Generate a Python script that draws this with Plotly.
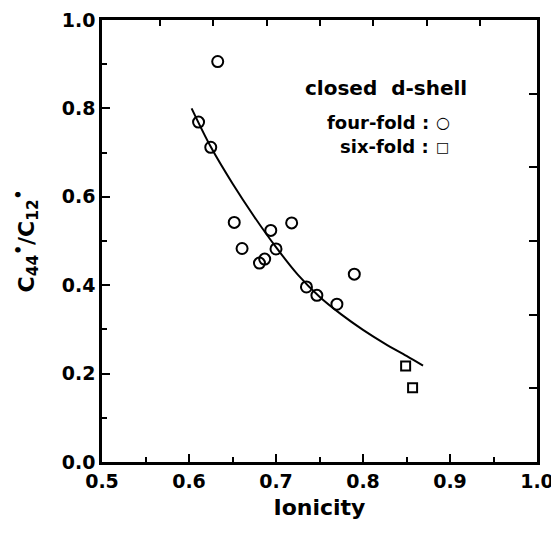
import plotly.graph_objects as go

# Data
four_fold_x = [0.633, 0.611, 0.625, 0.652, 0.661, 0.694, 0.718, 0.700, 0.681, 0.687, 0.735, 0.747, 0.770, 0.790]
four_fold_y = [0.906, 0.769, 0.712, 0.542, 0.483, 0.524, 0.541, 0.482, 0.450, 0.459, 0.396, 0.377, 0.357, 0.425]
six_fold_x = [0.849, 0.857]
six_fold_y = [0.217, 0.168]
fit_x = [0.603, 0.625, 0.650, 0.675, 0.700, 0.725, 0.750, 0.775, 0.800, 0.825, 0.850, 0.869]
fit_y = [0.800, 0.713, 0.630, 0.555, 0.486, 0.424, 0.374, 0.334, 0.299, 0.268, 0.240, 0.218]

x_ticks = [0.5, 0.6, 0.7, 0.8, 0.9, 1.0]
y_ticks = [0.0, 0.2, 0.4, 0.6, 0.8, 1.0]

FONT = "DejaVu Sans"

fig = go.Figure()
fig.add_trace(go.Scatter(x=fit_x, y=fit_y, mode="lines", line=dict(color="black", width=2, shape="spline"),
                         showlegend=False, hoverinfo="skip"))
fig.add_trace(go.Scatter(x=four_fold_x, y=four_fold_y, mode="markers",
                         marker=dict(symbol="circle-open", size=11, color="black", line=dict(width=2, color="black")),
                         showlegend=False))
fig.add_trace(go.Scatter(x=six_fold_x, y=six_fold_y, mode="markers",
                         marker=dict(symbol="square-open", size=9, color="black", line=dict(width=2, color="black")),
                         showlegend=False))
# dummy trace for the secondary (tick-only) frame axes
fig.add_trace(go.Scatter(x=[None], y=[None], xaxis="x2", yaxis="y2", showlegend=False, hoverinfo="skip"))

tickfont = dict(family=FONT, size=19, color="black", weight="bold")
fig.update_layout(
    width=551, height=533,
    margin=dict(l=102, r=14, t=20, b=71, autoexpand=False),
    paper_bgcolor="white", plot_bgcolor="white",
    xaxis=dict(range=[0.5, 1.0], tickvals=x_ticks, ticktext=[f"<b>{v:.1f}</b>" for v in x_ticks],
               ticks="inside", ticklen=8, tickwidth=2, tickcolor="black", ticklabeloverflow="allow",
               automargin=False,
               minor=dict(dtick=0.05, ticks="inside", ticklen=5, tickwidth=2, tickcolor="black"),
               showline=True, linewidth=2.5, linecolor="black", mirror=True,
               showgrid=False, zeroline=False, tickfont=tickfont,
               title=dict(text="<b>Ionicity</b>", font=dict(family=FONT, size=22, color="black"), standoff=10)),
    yaxis=dict(range=[0.0, 1.0], tickvals=y_ticks, ticktext=[f"<b>{v:.1f}</b>" for v in y_ticks],
               ticks="inside", ticklen=8, tickwidth=2, tickcolor="black", ticklabeloverflow="allow",
               automargin=False,
               minor=dict(dtick=0.1, ticks="inside", ticklen=5, tickwidth=2, tickcolor="black"),
               showline=True, linewidth=2.5, linecolor="black", mirror=True,
               showgrid=False, zeroline=False, tickfont=tickfont,
               title=dict(text="<b>C<sub>44</sub><sup>•</sup>/C<sub>12</sub><sup>•</sup></b>",
                          font=dict(family=FONT, size=22, color="black"), standoff=22)),
    xaxis2=dict(overlaying="x", side="top", range=[-0.09, 8.07], tickvals=[1, 2, 3, 4, 5, 6, 7],
                ticks="inside", ticklen=6, tickwidth=2, tickcolor="black", showticklabels=False,
                automargin=False, showline=False, showgrid=False, zeroline=False),
    yaxis2=dict(overlaying="y", side="right", range=[0, 6], tickvals=[1, 2, 3, 4, 5],
                ticks="inside", ticklen=8, tickwidth=2, tickcolor="black", showticklabels=False,
                automargin=False, showline=False, showgrid=False, zeroline=False),
)

fig.add_annotation(text="<b>closed  d-shell</b>", xref="paper", yref="paper", x=0.653, y=0.846,
                   xanchor="center", yanchor="middle", showarrow=False,
                   font=dict(family=FONT, size=20, color="black"))
fig.add_annotation(text="<b>four-fold :</b>", xref="paper", yref="paper", x=0.757, y=0.769,
                   xanchor="right", yanchor="middle", showarrow=False,
                   font=dict(family=FONT, size=18, color="black"))
fig.add_annotation(text="<b>six-fold :</b>", xref="paper", yref="paper", x=0.757, y=0.713,
                   xanchor="right", yanchor="middle", showarrow=False,
                   font=dict(family=FONT, size=18, color="black"))
fig.add_annotation(text="<b>○</b>", xref="paper", yref="paper", x=0.783, y=0.769,
                   xanchor="center", yanchor="middle", showarrow=False,
                   font=dict(family=FONT, size=16, color="black"))
fig.add_annotation(text="<b>□</b>", xref="paper", yref="paper", x=0.783, y=0.713,
                   xanchor="center", yanchor="middle", showarrow=False,
                   font=dict(family=FONT, size=14, color="black"))

fig.write_html("out.html")
